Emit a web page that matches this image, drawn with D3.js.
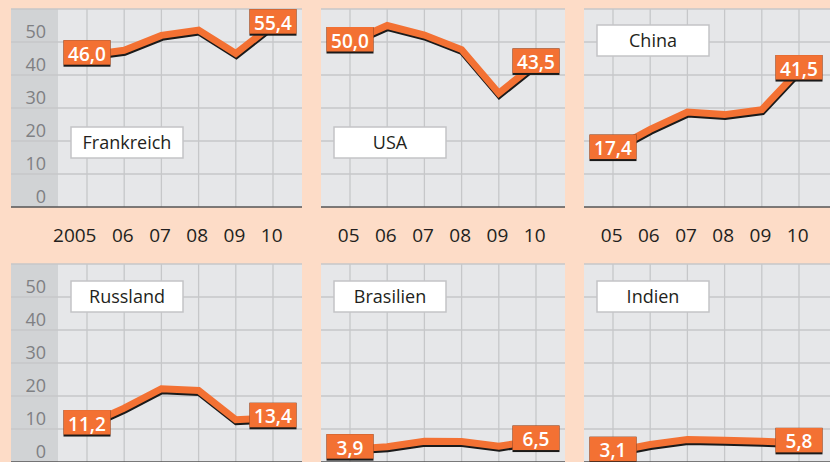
<!DOCTYPE html>
<html><head><meta charset="utf-8">
<script src="https://cdn.jsdelivr.net/npm/d3@7"></script>
<style>
html,body{margin:0;padding:0;background:#fddcc7;}
svg{display:block;}
</style></head>
<body>
<script>
const years = [2005, 2006, 2007, 2008, 2009, 2010];
const tickLabelsFirst = ["2005", "06", "07", "08", "09", "10"];
const tickLabelsOther = ["05", "06", "07", "08", "09", "10"];
const yTickValues = [0, 10, 20, 30, 40, 50];
const gridValues = [0, 10, 20, 30, 40, 50, 60];
const countries = ["Frankreich", "USA", "China", "Russland", "Brasilien", "Indien"];
const frankreich = [46.0, 47.5, 52.0, 53.6, 46.5, 55.4];
const usa = [50.0, 55.0, 52.1, 47.7, 34.5, 43.5];
const china = [17.4, 23.5, 28.8, 28.0, 29.5, 41.5];
const russland = [11.2, 16.3, 22.2, 21.7, 12.8, 13.4];
const brasilien = [3.9, 4.6, 6.3, 6.2, 4.8, 6.5];
const indien = [3.1, 5.3, 6.8, 6.6, 6.3, 5.8];
const labelFirst = ["46,0", "50,0", "17,4", "11,2", "3,9", "3,1"];
const labelLast = ["55,4", "43,5", "41,5", "13,4", "6,5", "5,8"];

const seriesList = [frankreich, usa, china, russland, brasilien, indien];

const W = 830, H = 462;
const ORANGE = "#f37133";
const svg = d3.select("body").append("svg").attr("width", W).attr("height", H);
svg.append("rect").attr("width", W).attr("height", H).attr("fill", "#fddcc7");

const colX = [58, 321, 584];
const plotW = [244, 244, 246];
const rowBase = [207, 462];
const font = "'Open Sans', 'Liberation Sans', sans-serif";

countries.forEach((name, i) => {
  const col = i % 3, row = Math.floor(i / 3);
  const x0 = colX[col];
  const y0 = rowBase[row];
  const x = d3.scalePoint().domain(years).range([x0 + 29, x0 + 215]);
  const y = d3.scaleLinear().domain([0, 60]).range([y0, y0 - 198]);
  const g = svg.append("g");
  const left = col === 0 ? 11 : x0;
  const right = x0 + plotW[col];
  // panel background
  g.append("rect").attr("x", left).attr("y", y(60)).attr("width", right - left)
    .attr("height", y(0) - y(60)).attr("fill", "#e6e7e9");
  if (col === 0) {
    g.append("rect").attr("x", 11).attr("y", y(60)).attr("width", x0 - 11)
      .attr("height", y(0) - y(60)).attr("fill", "#d1d3d5");
  }
  // grid
  g.selectAll("line.h").data(gridValues.slice(1)).join("line")
    .attr("x1", left).attr("x2", right)
    .attr("y1", d => y(d)).attr("y2", d => y(d))
    .attr("stroke", "#c6c7c9").attr("stroke-width", 1.3);
  g.selectAll("line.v").data(years).join("line")
    .attr("x1", d => x(d)).attr("x2", d => x(d))
    .attr("y1", y(60)).attr("y2", y(0))
    .attr("stroke", "#c6c7c9").attr("stroke-width", 1.3);
  // axis base line
  g.append("line").attr("x1", left).attr("x2", right).attr("y1", y(0)).attr("y2", y(0))
    .attr("stroke", "#555").attr("stroke-width", 1.6);
  // y tick labels
  if (col === 0) {
    g.selectAll("text.yt").data(yTickValues).join("text")
      .attr("x", 46).attr("y", d => y(d) - 4)
      .attr("text-anchor", "end").attr("font-family", font).attr("font-size", 18)
      .attr("fill", "#7f8083").text(d => d);
  }
  // x tick labels (top row only)
  if (row === 0) {
    const labs = col === 0 ? tickLabelsFirst : tickLabelsOther;
    g.selectAll("text.xt").data(years).join("text")
      .attr("x", d => x(d) + 9.5).attr("y", 242)
      .attr("text-anchor", "end").attr("font-family", font).attr("font-size", 19)
      .attr("fill", "#231f20").text((d, j) => labs[j]);
  }
  // title box
  const ty = (row === 0) ? (col === 2 ? 25 : 127) : 281;
  g.append("rect").attr("x", x0 + 13).attr("y", ty).attr("width", 112).attr("height", 31)
    .attr("fill", "#fff").attr("stroke", "#c3c4c6").attr("stroke-width", 1.5);
  g.append("text").attr("x", x0 + 69).attr("y", ty + 22).attr("text-anchor", "middle")
    .attr("font-family", font).attr("font-size", 18).attr("fill", "#231f20").text(name);
  // line
  const vals = seriesList[i];
  const pts = years.map((yr, j) => [x(yr), y(vals[j])]);
  const line = d3.line();
  g.append("path").attr("d", line(pts)).attr("fill", "none")
    .attr("stroke", "#1a1a1a").attr("stroke-width", 7)
    .attr("transform", "translate(0.5,2)");
  g.append("path").attr("d", line(pts)).attr("fill", "none")
    .attr("stroke", ORANGE).attr("stroke-width", 7);
  // end labels
  [[0, labelFirst[i]], [5, labelLast[i]]].forEach(([j, txt]) => {
    const px = pts[j][0], py = pts[j][1];
    g.append("rect").attr("x", px - 23.5).attr("y", py - 15).attr("width", 47).attr("height", 26.5)
      .attr("fill", "#1a1a1a");
    g.append("rect").attr("x", px - 23.5).attr("y", py - 15).attr("width", 47).attr("height", 24.5)
      .attr("fill", ORANGE);
    g.append("text").attr("x", px).attr("y", py + 5.5).attr("text-anchor", "middle")
      .attr("font-family", font).attr("font-size", 19).attr("font-weight", 600)
      .attr("fill", "#fff").text(txt);
  });
});
</script>
</body></html>
